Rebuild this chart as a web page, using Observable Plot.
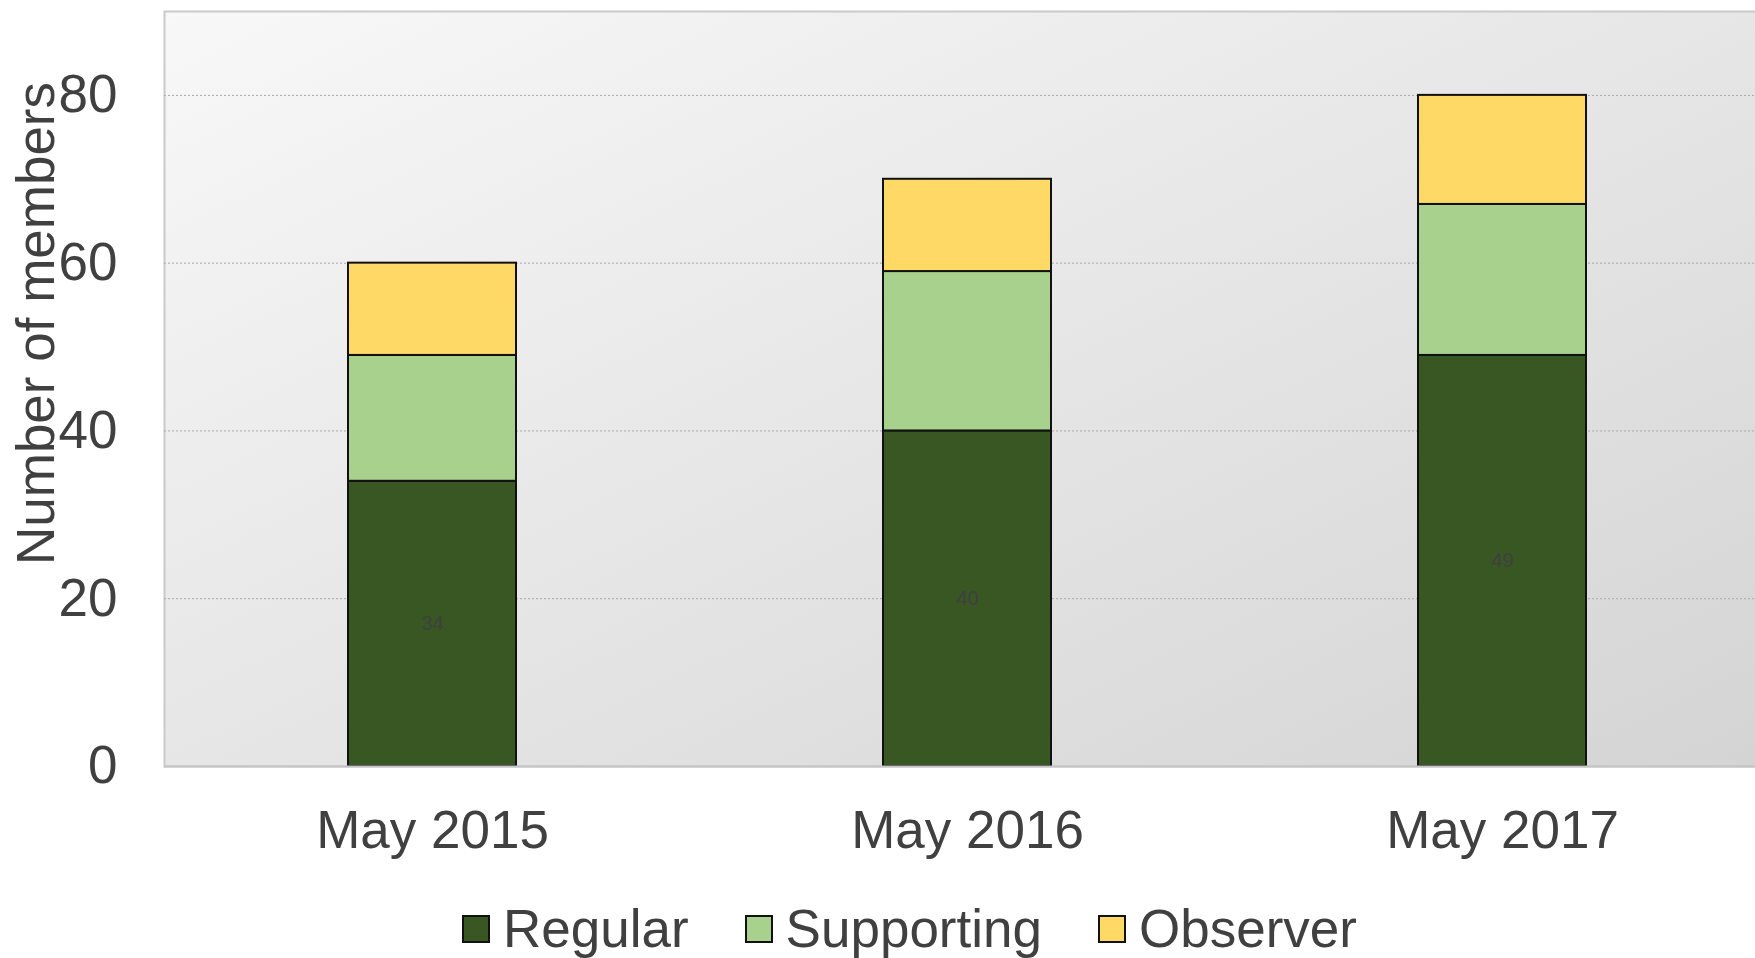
<!DOCTYPE html>
<html>
<head>
<meta charset="utf-8">
<script src="https://cdn.jsdelivr.net/npm/d3@7"></script>
<script src="https://cdn.jsdelivr.net/npm/@observablehq/plot@0.6"></script>
<style>
  html, body { margin: 0; padding: 0; background: #ffffff; overflow: hidden; width: 1755px; height: 958px; }
  body { font-family: "Liberation Sans", Arial, sans-serif; color: #404040; }
  #chart svg { display: block; }
  .legend { display: flex; align-items: center; margin-left: 462px; padding-top: 23px; height: 52px; font-size: 53px; line-height: 52px; color: #404040; }
  .legend .item { display: flex; align-items: center; margin-right: 56px; }
  .legend .sw { width: 24px; height: 24px; border: 2px solid #111; margin-right: 13px; }
</style>
</head>
<body>
<div id="chart"></div>
<div class="legend" id="legend"></div>
<script>
// ---- data ----
const dates = ["May 2015", "May 2016", "May 2017"];
const types = ["Regular", "Supporting", "Observer"];
const regular = [34, 40, 49];
const supporting = [15, 19, 18];
const observer = [11, 11, 13];
const colors = ["#385723", "#A9D18E", "#FFD966"];
const yTicks = [0, 20, 40, 60, 80];
const yLabel = "Number of members";

// build table
const series = [regular, supporting, observer];
const rows = [];
types.forEach((t, i) => dates.forEach((d, j) => rows.push({date: d, type: t, value: series[i][j]})));

const plot = Plot.plot({
  width: 1755,
  height: 880,
  marginLeft: 164,
  marginRight: -15,
  marginTop: 11,
  marginBottom: 114,
  style: {fontFamily: "'Liberation Sans', Arial, sans-serif", fontSize: "53px", color: "#404040", background: "transparent", overflow: "hidden"},
  x: {domain: dates, paddingInner: 0.686, paddingOuter: 0.343, label: null},
  y: {domain: [0, 90], label: null},
  color: {domain: types, range: colors},
  marks: [
    Plot.frame({fill: "url(#bgGrad)", stroke: "#c9c9c9", strokeWidth: 2}),
    Plot.gridY(yTicks.filter(t => t > 0), {stroke: "#a8a8a8", strokeOpacity: 1, strokeWidth: 1, strokeDasharray: "2,2"}),
    Plot.barY(rows, {x: "date", y: "value", fill: "type", z: "type", order: types, stroke: "#111", strokeWidth: 2}),
    Plot.text(rows, Plot.stackY({x: "date", y: "value", z: "type", order: types,
      text: d => d.type === "Regular" ? String(d.value) : "", fill: "#404040", fontSize: 20})),
    Plot.ruleY([0], {stroke: "#c4c4c4", strokeWidth: 2}),
    Plot.axisY({ticks: yTicks, tickSize: 0, tickPadding: 47, label: null, fill: "#404040"}),
    Plot.axisX({tickSize: 0, tickPadding: 44, label: null, fill: "#404040"}),
    Plot.text([yLabel], {frameAnchor: "left", rotate: -90, textAnchor: "middle", dx: -127.6, dy: -65.5, fill: "#404040", fontSize: 53})
  ]
});

// gradient background definition
const svg = d3.select(plot.tagName.toLowerCase() === "svg" ? plot : plot.querySelector("svg"));
const defs = svg.insert("defs", ":first-child");
const grad = defs.append("linearGradient").attr("id", "bgGrad")
  .attr("x1", "0").attr("y1", "0").attr("x2", "1").attr("y2", "1");
grad.append("stop").attr("offset", "0%").attr("stop-color", "#f8f8f8");
grad.append("stop").attr("offset", "100%").attr("stop-color", "#d4d4d4");

document.getElementById("chart").appendChild(plot);

// legend
const legend = d3.select("#legend");
types.forEach((t, i) => {
  const item = legend.append("div").attr("class", "item");
  item.append("div").attr("class", "sw").style("background", colors[i]);
  item.append("span").text(t);
});
</script>
</body>
</html>
